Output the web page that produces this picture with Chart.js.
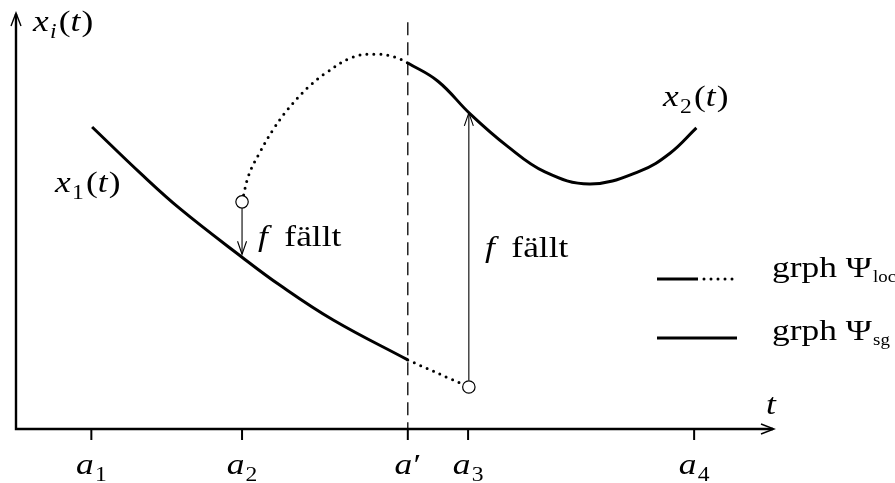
<!DOCTYPE html>
<html>
<head>
<meta charset="utf-8">
<script src="https://cdn.jsdelivr.net/npm/chart.js@4.4.0/dist/chart.umd.min.js"></script>
<style>
    html, body { margin: 0; padding: 0; background: #fff; }
    canvas { display: block; }
</style>
</head>
<body>
<canvas id="graph" width="895" height="483"></canvas>
<script>
// Curve samples (t, value) for the two branches
const x1SolidT = [1.01, 1.65, 2.18, 3.0, 3.5, 4.21, 5.2];
const x1SolidY = [7.26, 6.15, 5.29, 4.13, 3.46, 2.62, 1.66];
const x1DottedT = [5.2, 6.01];
const x1DottedY = [1.66, 1.01];

const x2DottedT = [3.0, 3.09, 3.23, 3.41, 3.61, 3.88, 4.13, 4.47, 4.77, 5.03, 5.2];
const x2DottedY = [5.46, 6.11, 6.63, 7.19, 7.69, 8.22, 8.58, 8.94, 9.01, 8.94, 8.80];
const x2SolidT = [5.2, 5.6, 6.03, 6.52, 7.02, 7.62, 8.28, 8.68, 9.03];
const x2SolidY = [8.80, 8.36, 7.57, 6.80, 6.18, 5.89, 6.20, 6.63, 7.24];

// Open circles where f jumps
const jumpT = [3.0, 6.01];
const jumpY = [5.46, 1.01];
// Arrow ends on the other branch
const jumpTargetY = [4.2, 7.6];

// t-axis marks
const tickT = [1, 3, 5.2, 6, 9];
const tickNames = ['1', '2', "'", '3', '4'];
const switchT = 5.2;

const serif = '"Liberation Serif", "Times New Roman", serif';
const BIG = 30;
const SMALL = 20;
const TINY = 16;
const STRETCH = 1.18;

function toPoints(ts, ys) {
    return ts.map((t, i) => ({ x: t, y: ys[i] }));
}

// runs: [text, kind, extra gap] with kind 'i' italic, 'r' roman,
// 'si' / 'sr' subscripts, 'ss' small roman subscript
function runFont(kind) {
    if (kind === 'i') return 'italic ' + BIG + 'px ' + serif;
    if (kind === 'r') return BIG + 'px ' + serif;
    if (kind === 'si') return 'italic ' + SMALL + 'px ' + serif;
    if (kind === 'ss') return TINY + 'px ' + serif;
    return SMALL + 'px ' + serif;
}

function runOffset(kind) {
    if (kind === 'si' || kind === 'sr') return 7;
    if (kind === 'ss') return 5;
    return 0;
}

function drawRuns(ctx, runs, x, y, align) {
    let width = 0;
    runs.forEach(r => {
        ctx.font = runFont(r[1]);
        width += ctx.measureText(r[0]).width + (r[2] || 0);
    });
    const start = align === 'center' ? x - width * STRETCH / 2 : x;
    ctx.save();
    ctx.translate(start, y);
    ctx.scale(STRETCH, 1);
    ctx.textAlign = 'left';
    ctx.textBaseline = 'alphabetic';
    let cx = 0;
    runs.forEach(r => {
        ctx.font = runFont(r[1]);
        ctx.fillText(r[0], cx, runOffset(r[1]));
        cx += ctx.measureText(r[0]).width + (r[2] || 0);
    });
    ctx.restore();
}

function openHead(ctx, x, y, dx, dy, len, half) {
    // dx, dy: unit direction the arrow points to
    const bx = x - dx * len, by = y - dy * len;
    ctx.beginPath();
    ctx.moveTo(bx - dy * half, by + dx * half);
    ctx.lineTo(x, y);
    ctx.lineTo(bx + dy * half, by - dx * half);
    ctx.stroke();
}

const axesPlugin = {
    id: 'axesPlugin',
    beforeDatasetsDraw(chart) {
        const ctx = chart.ctx;
        const xs = chart.scales.x, ys = chart.scales.y;
        const x0 = xs.getPixelForValue(0), y0 = ys.getPixelForValue(0);
        const xEnd = xs.getPixelForValue(xs.max), yEnd = ys.getPixelForValue(ys.max);
        ctx.save();
        ctx.strokeStyle = '#000';

        // switching time a'
        ctx.lineWidth = 1.3;
        ctx.setLineDash([13, 7]);
        ctx.beginPath();
        ctx.moveTo(xs.getPixelForValue(switchT), ys.getPixelForValue(9.78));
        ctx.lineTo(xs.getPixelForValue(switchT), y0);
        ctx.stroke();
        ctx.setLineDash([]);

        // axes
        ctx.lineWidth = 2.4;
        ctx.beginPath();
        ctx.moveTo(x0, yEnd + 1);
        ctx.lineTo(x0, y0);
        ctx.lineTo(xEnd - 1, y0);
        ctx.stroke();
        ctx.lineWidth = 1.4;
        openHead(ctx, x0, yEnd, 0, -1, 13, 5);
        openHead(ctx, xEnd, y0, 1, 0, 13, 5);

        // ticks and their names
        ctx.lineWidth = 2;
        ctx.fillStyle = '#000';
        tickT.forEach((t, i) => {
            const px = xs.getPixelForValue(t);
            ctx.beginPath();
            ctx.moveTo(px, y0);
            ctx.lineTo(px, y0 + 11);
            ctx.stroke();
            const runs = tickNames[i] === "'" ? [['a', 'i', 1], ['\u2032', 'r']] : [['a', 'i', 1], [tickNames[i], 'sr']];
            drawRuns(ctx, runs, px, 474, 'center');
        });
        ctx.restore();
    },
    afterDatasetsDraw(chart) {
        const ctx = chart.ctx;
        const xs = chart.scales.x, ys = chart.scales.y;
        ctx.save();
        ctx.strokeStyle = '#000';
        ctx.fillStyle = '#000';
        ctx.lineWidth = 1.1;

        // f falls: arrows from the circles to the other branch
        jumpT.forEach((t, i) => {
            const px = xs.getPixelForValue(t);
            const from = ys.getPixelForValue(jumpY[i]);
            const to = ys.getPixelForValue(jumpTargetY[i]);
            const dir = to > from ? 1 : -1;
            ctx.beginPath();
            ctx.moveTo(px, from + dir * 6.5);
            ctx.lineTo(px, to);
            ctx.stroke();
            openHead(ctx, px, to, 0, dir, 13, 4.5);
        });

        // labels
        drawRuns(ctx, [['x', 'i', 1], ['i', 'si', 2], ['(', 'r'], ['t', 'i', 1], [')', 'r']], 33, 31);
        drawRuns(ctx, [['x', 'i', 1], ['1', 'sr', 2], ['(', 'r'], ['t', 'i', 1], [')', 'r']], 55, 192);
        drawRuns(ctx, [['x', 'i', 1], ['2', 'sr', 2], ['(', 'r'], ['t', 'i', 1], [')', 'r']], 663, 106);
        drawRuns(ctx, [['f', 'i', 14], ['f\u00e4llt', 'r']], 258, 246);
        drawRuns(ctx, [['f', 'i', 14], ['f\u00e4llt', 'r']], 485, 257);
        drawRuns(ctx, [['t', 'i']], 766, 414);

        // key
        ctx.lineWidth = 3;
        ctx.beginPath();
        ctx.moveTo(657, 279);
        ctx.lineTo(698, 279);
        ctx.moveTo(657, 338);
        ctx.lineTo(737, 338);
        ctx.stroke();
        ctx.lineCap = 'round';
        ctx.lineWidth = 3;
        ctx.setLineDash([0, 7]);
        ctx.beginPath();
        ctx.moveTo(704, 279);
        ctx.lineTo(738, 279);
        ctx.stroke();
        ctx.setLineDash([]);
        drawRuns(ctx, [['grph \u03a8', 'r', 1], ['loc', 'ss']], 772, 277);
        drawRuns(ctx, [['grph \u03a8', 'r', 1], ['sg', 'ss']], 772, 340);
        ctx.restore();
    }
};

const solid = { borderColor: '#000', borderWidth: 3, pointRadius: 0, showLine: true, tension: 0.4, fill: false };
const dotted = Object.assign({}, solid, { borderWidth: 3, borderDash: [0, 7], borderCapStyle: 'round' });

new Chart(document.getElementById('graph'), {
    type: 'scatter',
    data: {
        datasets: [
            {
                data: toPoints(jumpT, jumpY),
                pointRadius: 6.2,
                pointBorderWidth: 1.2,
                pointBorderColor: '#000',
                pointBackgroundColor: '#fff',
                showLine: false
            },
            Object.assign({ data: toPoints(x1SolidT, x1SolidY) }, solid),
            Object.assign({ data: toPoints(x1DottedT, x1DottedY) }, dotted),
            Object.assign({ data: toPoints(x2DottedT, x2DottedY) }, dotted),
            Object.assign({ data: toPoints(x2SolidT, x2SolidY) }, solid)
        ]
    },
    options: {
        responsive: false,
        animation: false,
        events: [],
        layout: { padding: { left: 16, right: 121, top: 13, bottom: 54 } },
        scales: {
            x: { type: 'linear', min: 0, max: 10.06, display: false },
            y: { type: 'linear', min: 0, max: 10, display: false }
        },
        plugins: {
            legend: { display: false },
            tooltip: { enabled: false }
        },
        datasets: { scatter: { clip: false } }
    },
    plugins: [axesPlugin]
});
</script>
</body>
</html>
